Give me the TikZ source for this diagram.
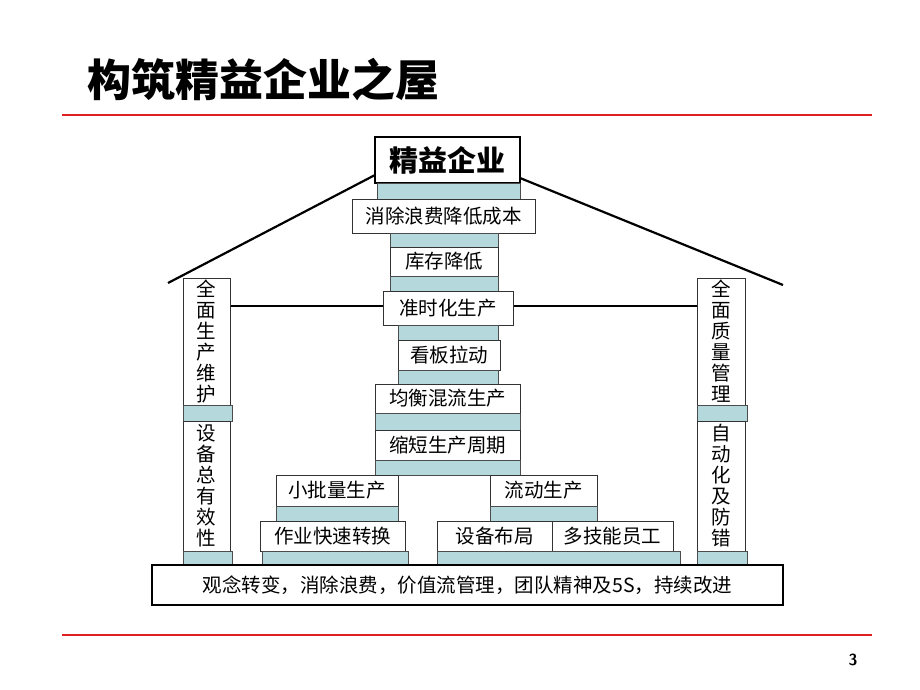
\documentclass[tikz,border=0pt]{standalone}
\usepackage{fontspec}
\setmainfont{Noto Sans CJK SC}
\usepackage{tikz}
\definecolor{teal1}{HTML}{B4D8DC}
\definecolor{redl}{HTML}{E02020}
\tikzset{
 x=1pt,y=-1pt,
 box/.style={draw=black!80,fill=white,inner sep=0pt,outer sep=0pt,anchor=north west,font=\fontsize{19.5}{19.5}\selectfont,line width=0.7pt},
 bar/.style={draw=black!70,fill=teal1,inner sep=0pt,outer sep=0pt,anchor=north west,line width=0.5pt},
 vtext/.style={box,align=center,font=\fontsize{19.5}{21}\selectfont,anchor=north west},
 thickl/.style={line width=2.2pt}
}
\newcommand{\bx}[6]{\node[box,minimum width=#3,minimum height=#4,#6] (#1) at (#2) {#5};}
\newcommand{\br}[4]{\node[bar,minimum width=#3,minimum height=#4] (#1) at (#2) {};}
\begin{document}
\begin{tikzpicture}
\useasboundingbox (0,0) rectangle (920,690);
\node[anchor=west,font=\fontsize{44}{44}\selectfont\bfseries] (title) at (84,80) {构筑精益企业之屋};
\draw[redl,line width=1.2pt] (62,115) -- (872,115);
\draw[redl,line width=1.2pt] (62,635) -- (872,635);
\node[font=\fontsize{16}{16}\selectfont\sffamily\bfseries] (pg) at (853,660) {3};
% roof and beam
\coordinate (rl) at (168,283); \coordinate (rr) at (783,285);
\coordinate (bl) at (230,306); \coordinate (br) at (697,306);
\draw[thickl] (bl) -- (br);
% pillars
\bx{lp1}{183,278}{47}{127}{全\\面\\生\\产\\维\\护}{vtext}
\br{lb1}{183,405}{49}{16}
\bx{lp2}{183,421}{47}{130}{设\\备\\总\\有\\效\\性}{vtext}
\br{lb2}{183,551}{49}{14}
\bx{rp1}{697,278}{48}{127}{全\\面\\质\\量\\管\\理}{vtext}
\br{rb1}{697,405}{50}{16}
\bx{rp2}{697,421}{48}{130}{自\\动\\化\\及\\防\\错}{vtext}
\br{rb2}{697,551}{50}{14}
% central stack
\node[box,draw=black,line width=2pt,minimum width=145,minimum height=46,font=\fontsize{29}{29}\selectfont\bfseries] (top) at (375,137) {精益企业};
\draw[thickl] (rl) -- (top.west|-0,175);
\draw[thickl] (top.east|-0,178) -- (rr);
\br{t0}{377,183}{143}{16}
\bx{c1}{352,199}{183}{34}{消除浪费降低成本}{}
\br{t1}{390,233}{108}{14}
\bx{c2}{390,247}{108}{29}{库存降低}{}
\br{t2}{390,276}{108}{15}
\bx{c3}{383,291}{130}{34}{准时化生产}{}
\br{t3}{398,325}{100}{15}
\bx{c4}{398,340}{102}{30}{看板拉动}{}
\br{t4}{398,370}{100}{14}
\bx{c5}{375,384}{145}{29}{均衡混流生产}{}
\br{t5}{375,413}{145}{17}
\bx{c6}{375,430}{145}{30}{缩短生产周期}{}
\br{t6}{375,460}{145}{15}
\bx{l1}{276,475}{122}{31}{小批量生产}{}
\br{lt1}{276,506}{122}{15}
\bx{r1}{490,475}{107}{31}{流动生产}{}
\br{rt1}{490,506}{107}{15}
\bx{l2}{260,521}{145}{30}{作业快速转换}{}
\br{lt2}{262,551}{146}{14}
\bx{r2a}{437,521}{115}{30}{设备布局}{}
\bx{r2b}{552,521}{121}{30}{多技能员工}{}
\br{rt2}{437,551}{243}{14}
\node[box,draw=black,line width=2pt,minimum width=631,minimum height=40] (base) at (152,565) {观念转变，消除浪费，价值流管理，团队精神及5S，持续改进};
\end{tikzpicture}
\end{document}
